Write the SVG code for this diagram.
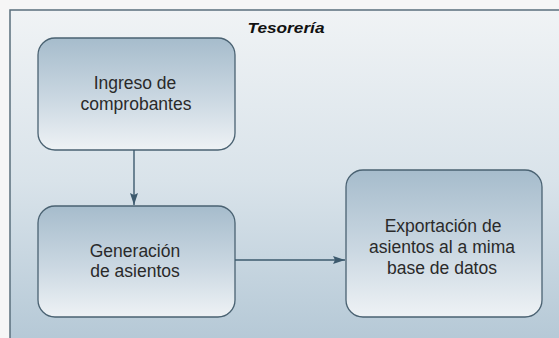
<svg xmlns="http://www.w3.org/2000/svg" width="559" height="338" viewBox="0 0 559 338">
<defs>
<linearGradient id="bg" x1="0" y1="0" x2="0" y2="1">
<stop offset="0" stop-color="#f0f3f5"/>
<stop offset="0.5" stop-color="#d9e3ea"/>
<stop offset="1" stop-color="#b3c7d5"/>
</linearGradient>
<linearGradient id="nodefill" x1="0" y1="0" x2="0" y2="1">
<stop offset="0" stop-color="#a6bccc"/>
<stop offset="0.55" stop-color="#cbd8e2"/>
<stop offset="1" stop-color="#eef2f5"/>
</linearGradient>
<marker id="arr" viewBox="0 0 12 10" refX="12" refY="5" markerWidth="12" markerHeight="10" markerUnits="userSpaceOnUse" orient="auto">
<path d="M0,1 L12,5 L0,9 L2,5 Z" fill="#3d5a6e"/>
</marker>
</defs>
<style>
.node rect{fill:url(#nodefill);stroke:#4a6272;stroke-width:1.3}
.label{font-family:"Liberation Sans",Arial,sans-serif;font-size:17.5px;fill:#2a2a2a;text-anchor:middle}
.conn{stroke:#3d5a6e;stroke-width:1.4;fill:none;marker-end:url(#arr)}
</style>
<rect x="0" y="0" width="559" height="338" fill="#f6f6f6"/>
<g id="lane">
<rect x="10" y="10" width="560" height="340" fill="url(#bg)" stroke="#5a6f7c" stroke-width="1.5"/>
<text x="286" y="33" font-family="'Liberation Sans',Arial,sans-serif" font-size="15.5" font-weight="bold" font-style="italic" fill="#111" text-anchor="middle" textLength="77" lengthAdjust="spacingAndGlyphs">Tesorería</text>
</g>
<g id="n1" class="node">
<rect x="38" y="38" width="197" height="112" rx="17" ry="17"/>
<text class="label" x="135" y="89">Ingreso de</text>
<text class="label" x="136" y="110">comprobantes</text>
</g>
<g id="n2" class="node">
<rect x="38" y="206" width="197" height="111" rx="17" ry="17"/>
<text class="label" x="135" y="257">Generación</text>
<text class="label" x="135" y="277">de asientos</text>
</g>
<g id="n3" class="node">
<rect x="346" y="170" width="196" height="147" rx="17" ry="17"/>
<text class="label" x="443" y="232">Exportación de</text>
<text class="label" x="442" y="253">asientos al a mima</text>
<text class="label" x="442" y="274">base de datos</text>
</g>
<g id="connectors">
<line class="conn" x1="134" y1="150" x2="134" y2="205"/>
<line class="conn" x1="235" y1="260" x2="345" y2="260"/>
</g>
</svg>
